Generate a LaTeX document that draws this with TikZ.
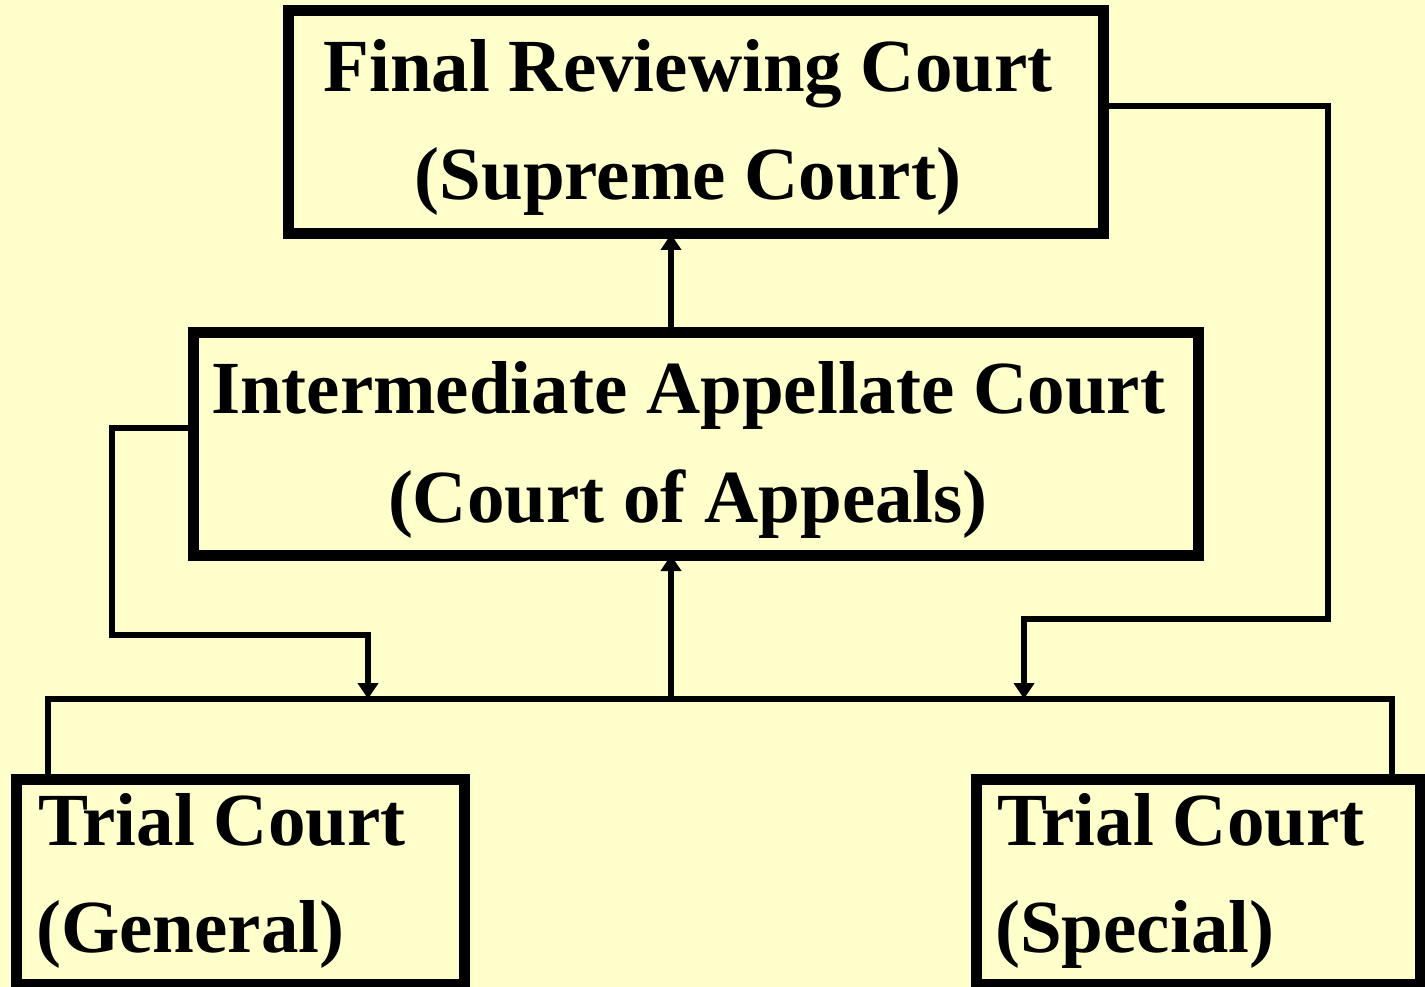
\documentclass[tikz,border=0pt]{standalone}
\usepackage{fontspec}
\setmainfont{Liberation Serif}
\usetikzlibrary{arrows.meta}
\definecolor{bg}{HTML}{FFFFCC}
\begin{document}
\begin{tikzpicture}[x=1pt,y=-1pt,
  box/.style={draw=black,line width=11pt,rectangle,inner sep=0pt,outer sep=0pt},
  lbl/.style={anchor=base,inner sep=0pt,font=\fontsize{75}{90}\selectfont\bfseries},
  lbll/.style={anchor=base west,inner sep=0pt,font=\fontsize{75}{90}\selectfont\bfseries},
  conn/.style={line width=6pt,line join=miter},
  arr/.style={conn,-{Triangle[width=20pt,length=16pt]}}]
\fill[bg] (0,0) rectangle (1425,987);
\useasboundingbox (0,0) rectangle (1425,987);
\node[box,minimum width=815pt,minimum height=223pt] (top) at (695.5,122.5) {};
\node[box,minimum width=1005pt,minimum height=223pt] (mid) at (695.5,443.5) {};
\node[box,minimum width=448pt,minimum height=205pt] (gen) at (240,881.5) {};
\node[box,minimum width=444pt,minimum height=205pt] (spe) at (1198,881.5) {};
\node[lbl] (t1) at (688,92) {Final Reviewing Court};
\node[lbl] (t2) at (688,200) {(Supreme Court)};
\node[lbl] (m1) at (688,413) {Intermediate Appellate Court};
\node[lbl] (m2) at (688,522) {(Court of Appeals)};
\node[lbll] (g1) at (38,845) {Trial Court};
\node[lbll] (g2) at (36,952) {(General)};
\node[lbll] (s1) at (997,845) {Trial Court};
\node[lbll] (s2) at (995,952) {(Special)};
\coordinate (busM) at (671,699);
\coordinate (busL) at (48,699);
\coordinate (busR) at (1392,699);
\coordinate (lA) at (112,428);
\coordinate (lB) at (112,635);
\coordinate (lC) at (368,635);
\coordinate (lD) at (368,699);
\coordinate (rA) at (1328,106);
\coordinate (rB) at (1328,619);
\coordinate (rC) at (1024,619);
\coordinate (rD) at (1024,699);
\draw[conn] (gen.north -| busL) -- (busL) -- (busR) -- (spe.north -| busR);
\draw[arr] (busM) -- (busM |- mid.south);
\draw[arr] (busM |- mid.north) -- (busM |- top.south);
\draw[arr] (mid.west |- lA) -- (lA) -- (lB) -- (lC) -- (lD);
\draw[arr] (top.east |- rA) -- (rA) -- (rB) -- (rC) -- (rD);
\end{tikzpicture}
\end{document}
